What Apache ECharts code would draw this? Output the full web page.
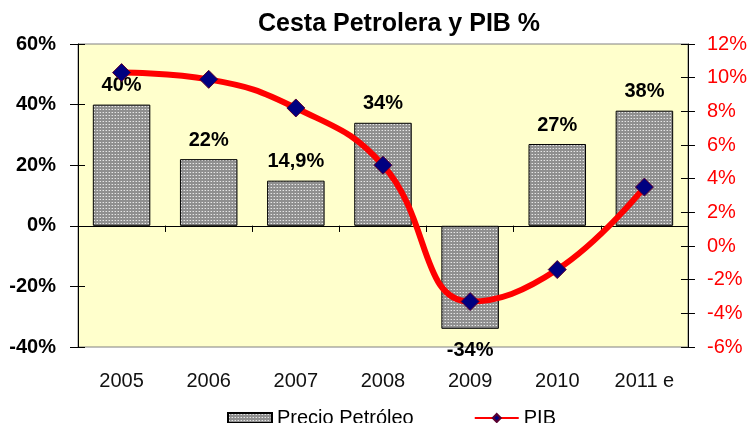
<!DOCTYPE html>
<html lang="es">
<head>
    <meta charset="UTF-8">
    <title>Cesta Petrolera y PIB %</title>
    <script type="text/javascript" src="https://cdn.jsdelivr.net/npm/echarts@6/dist/echarts.min.js"></script>
    <style>
        html, body { margin: 0; padding: 0; background: #fff; }
    </style>
</head>
<body>
<div id="chart" style="width: 750px;height: 423px"></div>
<script type="text/javascript">
    // datos
    var years = ['2005', '2006', '2007', '2008', '2009', '2010', '2011 e'];
    var precioPetroleo = [40, 22, 14.9, 34, -34, 27, 38];
    var pib = [10.3, 9.9, 8.2, 4.8, -3.3, -1.4, 3.5];

    var font = "'Liberation Sans', Arial, sans-serif";

    // trama punteada de las barras
    var pat = document.createElement('canvas');
    pat.width = 3;
    pat.height = 3;
    var pc = pat.getContext('2d');
    pc.fillStyle = '#8f8f8f';
    pc.fillRect(0, 0, 3, 3);
    pc.fillStyle = '#e6e6e6';
    pc.fillRect(1, 1, 1, 1);
    pc.fillStyle = '#b4b4b4';
    pc.fillRect(0, 1, 1, 1);

    var barData = precioPetroleo.map(function (v) {
        if (v < 0) {
            return { value: v, label: { position: 'bottom', distance: 12 } };
        }
        return v;
    });

    var myChart = echarts.init(document.getElementById('chart'));
    var option = {
        animation: false,
        textStyle: { fontFamily: font },
        title: {
            text: 'Cesta Petrolera y PIB %',
            left: 253,
            top: 7,
            textStyle: { fontSize: 25, fontWeight: 'bold', color: '#000', fontFamily: font }
        },
        legend: {
            left: 222,
            top: 403,
            itemWidth: 44,
            itemHeight: 10,
            itemGap: 60,
            textStyle: { fontSize: 20, color: '#000', fontFamily: font },
            data: [
                { name: 'Precio Petróleo', icon: 'rect' },
                { name: 'PIB' }
            ]
        },
        grid: {
            left: 78,
            right: 62,
            top: 44,
            bottom: 76,
            show: true,
            backgroundColor: '#FFFFCC',
            borderColor: '#808080',
            borderWidth: 1
        },
        xAxis: [
            {
                type: 'category',
                data: years,
                axisLine: { onZero: true, onZeroAxisIndex: 0, lineStyle: { color: '#000', width: 1 } },
                axisTick: { show: true, length: 6, lineStyle: { color: '#000' } },
                axisLabel: { show: false }
            },
            {
                type: 'category',
                data: years,
                position: 'bottom',
                axisLine: { show: false, onZero: false },
                axisTick: { show: false },
                axisLabel: { margin: 24, fontSize: 20, color: '#111', fontFamily: font }
            },
            {
                type: 'category',
                data: years,
                axisLine: { onZero: true, onZeroAxisIndex: 0, lineStyle: { color: '#000', width: 1 } },
                axisTick: { show: true, inside: true, length: 6, lineStyle: { color: '#000' } },
                axisLabel: { show: false }
            }
        ],
        yAxis: [
            {
                type: 'value',
                position: 'left',
                min: -40,
                max: 60,
                interval: 20,
                splitLine: { show: false },
                axisLine: { show: true, lineStyle: { color: '#000' } },
                axisTick: { show: true, length: 8, lineStyle: { color: '#000' } },
                axisLabel: {
                    formatter: '{value}%',
                    margin: 22,
                    fontSize: 20,
                    fontWeight: 'bold',
                    color: '#000',
                    fontFamily: font
                }
            },
            {
                type: 'value',
                position: 'right',
                min: -6,
                max: 12,
                interval: 2,
                splitLine: { show: false },
                axisLine: { show: true, lineStyle: { color: '#000' } },
                axisTick: { show: true, length: 7, lineStyle: { color: '#000' } },
                axisLabel: {
                    formatter: '{value}%',
                    margin: 19,
                    fontSize: 20,
                    color: '#FF0000',
                    fontFamily: font
                }
            },
            {
                type: 'value',
                position: 'left',
                min: -40,
                max: 60,
                interval: 20,
                splitLine: { show: false },
                axisLine: { show: false },
                axisTick: { show: true, inside: true, length: 7, lineStyle: { color: '#000' } },
                axisLabel: { show: false }
            },
            {
                type: 'value',
                position: 'right',
                min: -6,
                max: 12,
                interval: 2,
                splitLine: { show: false },
                axisLine: { show: false },
                axisTick: { show: true, inside: true, length: 7, lineStyle: { color: '#000' } },
                axisLabel: { show: false }
            }
        ],
        series: [
            {
                name: 'Precio Petróleo',
                type: 'bar',
                xAxisIndex: 0,
                yAxisIndex: 0,
                data: barData,
                barWidth: '66%',
                itemStyle: {
                    color: { image: pat, repetition: 'repeat' },
                    borderColor: '#000',
                    borderWidth: 1
                },
                label: {
                    show: true,
                    position: 'top',
                    distance: 9,
                    fontSize: 20,
                    fontWeight: 'bold',
                    color: '#000',
                    fontFamily: font,
                    formatter: function (p) {
                        return String(p.value).replace('.', ',') + '%';
                    }
                }
            },
            {
                name: 'PIB',
                type: 'line',
                xAxisIndex: 0,
                yAxisIndex: 1,
                data: pib,
                smooth: 0.45,
                symbol: 'diamond',
                symbolSize: 18,
                lineStyle: { color: '#FF0000', width: 6 },
                itemStyle: { color: '#000080', borderColor: '#5a0030', borderWidth: 1 },
                z: 5
            }
        ]
    };
    myChart.setOption(option);
</script>
</body>
</html>
